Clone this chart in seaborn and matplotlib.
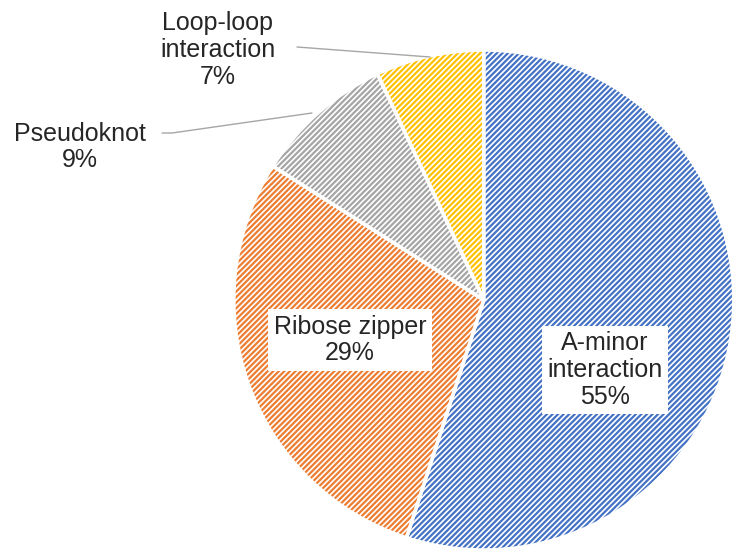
import matplotlib
matplotlib.use("Agg")
import matplotlib.pyplot as plt
import seaborn as sns

sns.set_theme(style="white")
plt.rcParams['font.family'] = ['Liberation Sans', 'DejaVu Sans']
plt.rcParams['hatch.linewidth'] = 1.6

labels = ["A-minor\ninteraction", "Ribose zipper", "Pseudoknot", "Loop-loop\ninteraction"]
values = [55, 29, 9, 7]
colors = ["#4472C4", "#ED7D31", "#A5A5A5", "#FFC000"]

fig = plt.figure(figsize=(7.33, 5.5), dpi=100)
ax = fig.add_axes([0.319, 0.0, 0.682, 0.909])
wedges, _ = ax.pie(values, startangle=90, counterclock=False,
                   wedgeprops=dict(facecolor="white", linewidth=0))
for w, c in zip(wedges, colors):
    w.set_hatch("//////")
    w.set_edgecolor(c)
    w.set_linewidth(0)
ax.pie(values, startangle=90, counterclock=False,
       wedgeprops=dict(fill=False, linewidth=2.5, edgecolor="white"))
ax.set_xlim(-1.0, 1.0)
ax.set_ylim(-1.0, 1.0)
ax.set_aspect("equal")

box = dict(facecolor="white", edgecolor="none", pad=4)
fs = 18
t = [f"{l}\n{v}%" for l, v in zip(labels, values)]
fig.text(605/733, 1-370/550, t[0], ha="center", va="center", fontsize=fs, bbox=box, linespacing=1.15)
fig.text(350/733, 1-340/550, t[1], ha="center", va="center", fontsize=fs, bbox=box, linespacing=1.15)
fig.text(80/733, 1-147/550, t[2], ha="center", va="center", fontsize=fs, linespacing=1.15)
fig.text(218/733, 1-50/550, t[3], ha="center", va="center", fontsize=fs, linespacing=1.15)

lc = "#A6A6A6"
fig.add_artist(plt.Line2D([162/733, 172/733, 312/733], [1-133/550, 1-133/550, 1-113/550], color=lc, lw=1))
fig.add_artist(plt.Line2D([297/733, 430/733], [1-47/550, 1-57/550], color=lc, lw=1))

fig.savefig("out.png", dpi=100)
